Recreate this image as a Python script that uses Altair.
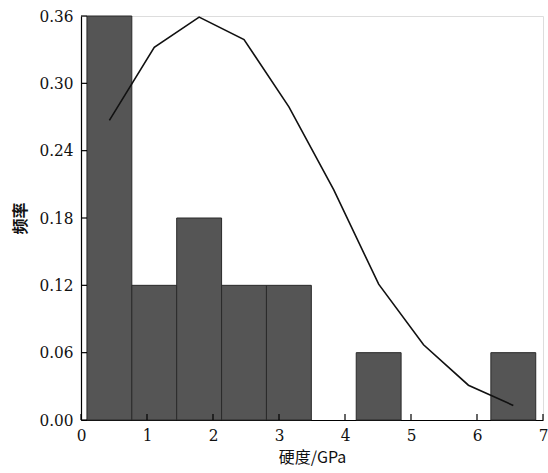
import altair as alt
import pandas as pd

# histogram bins (hardness, GPa) and frequencies
bin_start = [0.09, 0.77, 1.45, 2.13, 2.81, 4.17, 6.21]
bin_end = [0.77, 1.45, 2.13, 2.81, 3.49, 4.85, 6.89]
freq = [0.36, 0.12, 0.18, 0.12, 0.12, 0.06, 0.06]

# fitted curve evaluated at bin centres
curve_x = [0.43, 1.11, 1.79, 2.47, 3.15, 3.83, 4.51, 5.19, 5.87, 6.55]
curve_y = [0.267, 0.332, 0.359, 0.339, 0.279, 0.205, 0.121, 0.067, 0.031, 0.013]

x_ticks = [0, 1, 2, 3, 4, 5, 6, 7]
y_ticks = [0.0, 0.06, 0.12, 0.18, 0.24, 0.30, 0.36]

W, H = 462, 404
SERIF = "DejaVu Serif Condensed, DejaVu Serif"

bars_df = pd.DataFrame({"x0": bin_start, "x1": bin_end, "f": freq})
curve_df = pd.DataFrame({"x": curve_x, "y": curve_y})
xt_df = pd.DataFrame({"t": x_ticks})
yt_df = pd.DataFrame({"t": y_ticks})

xscale = alt.Scale(domain=[0, 7], nice=False, zero=False)
yscale = alt.Scale(domain=[0, 0.36], nice=False)

xaxis = alt.Axis(values=x_ticks, format="d", title="硬度/GPa", ticks=False,
                 grid=False, domainColor="#000", domainWidth=1.2,
                 labelPadding=7, labelFont=SERIF, labelFontSize=17,
                 labelColor="#111", titleFont="Noto Sans CJK SC",
                 titleFontSize=16, titleFontWeight="normal", titleColor="#111",
                 titlePadding=6, labelFlush=False)
yaxis = alt.Axis(values=y_ticks, format=".2f", title="频率", ticks=False,
                 grid=False, domainColor="#000", domainWidth=1.2,
                 labelPadding=8, labelFont=SERIF, labelFontSize=17,
                 labelColor="#111", titleFont="Noto Sans CJK SC",
                 titleFontSize=16, titleFontWeight="bold", titleColor="#111",
                 titlePadding=10, labelFlush=False)

bars = alt.Chart(bars_df).mark_rect(fill="#555555", stroke="#2a2a2a",
                                    strokeWidth=1).encode(
    x=alt.X("x0:Q", scale=xscale, axis=xaxis),
    x2="x1:Q",
    y=alt.Y("f:Q", scale=yscale, axis=yaxis),
    y2=alt.datum(0),
)

line = alt.Chart(curve_df).mark_line(color="#111", strokeWidth=1.6).encode(
    x=alt.X("x:Q", scale=xscale),
    y=alt.Y("y:Q", scale=yscale),
)

xt = alt.Chart(xt_df).mark_rule(color="#000", strokeWidth=1.2).encode(
    x=alt.X("t:Q", scale=xscale),
    y=alt.value(H),
    y2=alt.value(H - 6),
)
yt = alt.Chart(yt_df).mark_rule(color="#000", strokeWidth=1.2).encode(
    y=alt.Y("t:Q", scale=yscale),
    x=alt.value(0),
    x2=alt.value(6),
)

chart = alt.layer(bars, line, xt, yt).properties(
    width=W, height=H,
    autosize=alt.AutoSizeParams(type="none"),
    padding={"left": 81, "top": 16, "right": 5, "bottom": 53},
).configure_view(stroke=None).configure(background="white")

chart.save("out.html", embed_options={"renderer": "svg", "actions": False})
